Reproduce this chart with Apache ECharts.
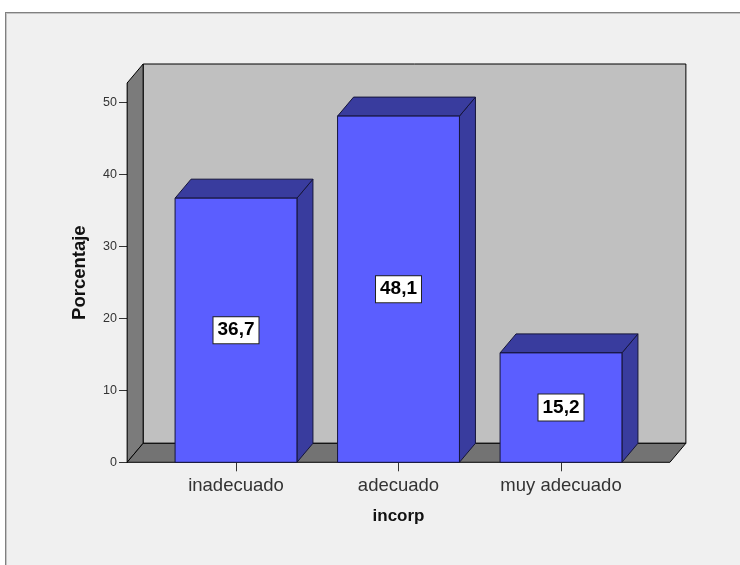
<!DOCTYPE html>
<html>
<head>
<meta charset="utf-8">
<title>incorp</title>
<script src="https://cdn.jsdelivr.net/npm/echarts@6/dist/echarts.min.js"></script>
<style>
  html, body { margin: 0; padding: 0; background: #ffffff; }
  #frame {
    position: absolute; left: 5px; top: 12px; right: 0; bottom: 0;
    background: #f0f0f0;
    border-top: 1px solid #808080; border-left: 1px solid #808080;
    box-shadow: inset 1px 1px 0 #c4c4c4;
  }
  #chart { position: absolute; left: 0; top: 0; width: 740px; height: 565px; }
</style>
</head>
<body>
<div id="frame"></div>
<div id="chart"></div>
<script>
// Categories of "incorp" and their percentages
const categories = ['inadecuado', 'adecuado', 'muy adecuado'];
const percentages = [36.7, 48.1, 15.2];
const yTickValues = [0, 10, 20, 30, 40, 50];
const yAxisTop = 52.7;          // height of the box walls, in axis units

// Box look
const DEPTH = [16, -19];        // pixel offset of the back plane
const SIDE_PAD = 0.17;          // extra floor beyond the outer bands, in bands
const BAR_RATIO = 0.75;         // bar width as a share of the band

const chart = echarts.init(document.getElementById('chart'), null, { renderer: 'canvas' });

function fmt(v) { return v.toFixed(1).replace('.', ','); }

// Back wall, left wall and floor of the 3D box
function renderWalls(params, api) {
  const band = api.size([1, 0])[0];
  const p0 = api.coord([0, 0]);
  const pN = api.coord([categories.length - 1, 0]);
  const yBase = p0[1];
  const yTop = api.coord([0, yAxisTop])[1];
  const xL = p0[0] - band * (0.5 + SIDE_PAD);
  const xR = pN[0] + band * (0.5 + SIDE_PAD);
  const dx = DEPTH[0], dy = DEPTH[1];
  const stroke = { stroke: '#000000', lineWidth: 1 };
  return {
    type: 'group',
    children: [
      { type: 'polygon', shape: { points: [[xL + dx, yTop + dy], [xR + dx, yTop + dy], [xR + dx, yBase + dy], [xL + dx, yBase + dy]] },
        style: Object.assign({ fill: '#c0c0c0' }, stroke) },
      { type: 'polygon', shape: { points: [[xL, yBase], [xL, yTop], [xL + dx, yTop + dy], [xL + dx, yBase + dy]] },
        style: Object.assign({ fill: '#7b7b7b' }, stroke) },
      { type: 'polygon', shape: { points: [[xL, yBase], [xR, yBase], [xR + dx, yBase + dy], [xL + dx, yBase + dy]] },
        style: Object.assign({ fill: '#737373' }, stroke) }
    ]
  };
}

// One 3D bar: front face, top face, right face and a boxed value label
function renderBar(params, api) {
  const idx = api.value(0);
  const val = api.value(1);
  const band = api.size([1, 0])[0];
  const w = band * BAR_RATIO;
  const top = api.coord([idx, val]);
  const base = api.coord([idx, 0]);
  const xl = top[0] - w / 2, xr = top[0] + w / 2;
  const yt = top[1], yb = base[1];
  const dx = DEPTH[0], dy = DEPTH[1];
  const edge = { stroke: '#15153a', lineWidth: 1 };
  return {
    type: 'group',
    children: [
      { type: 'polygon', shape: { points: [[xr, yt], [xr + dx, yt + dy], [xr + dx, yb + dy], [xr, yb]] },
        style: Object.assign({ fill: '#393c9e' }, edge) },
      { type: 'polygon', shape: { points: [[xl, yt], [xr, yt], [xr + dx, yt + dy], [xl + dx, yt + dy]] },
        style: Object.assign({ fill: '#393c9e' }, edge) },
      { type: 'rect', shape: { x: xl, y: yt, width: w, height: yb - yt },
        style: Object.assign({ fill: '#5b5eff' }, edge) },
      { type: 'text', x: top[0], y: (yt + yb) / 2,
        style: {
          text: fmt(val), align: 'center', verticalAlign: 'middle',
          font: 'bold 19px "Liberation Sans", Arial, sans-serif', fill: '#000000',
          backgroundColor: '#ffffff', borderColor: '#222222', borderWidth: 1,
          padding: [4, 4, 3, 4], lineHeight: 19
        } }
    ]
  };
}

const option = {
  animation: false,
  backgroundColor: 'transparent',
  grid: { left: 154.75, right: 97.75, top: 83, bottom: 102.7, containLabel: false },
  xAxis: {
    type: 'category',
    data: categories,
    name: 'incorp',
    nameLocation: 'middle',
    nameGap: 46,
    nameTextStyle: { fontFamily: '"Liberation Sans", Arial, sans-serif', fontWeight: 'bold', fontSize: 17, color: '#111111' },
    axisLine: { show: false },
    axisTick: { show: true, alignWithLabel: true, length: 9, lineStyle: { color: '#333333', width: 1 } },
    axisLabel: { margin: 14, fontFamily: '"Liberation Sans", Arial, sans-serif', fontSize: 18.5, color: '#333333' },
    splitLine: { show: false }
  },
  yAxis: {
    type: 'value',
    min: 0,
    max: yAxisTop,
    offset: 27.75,
    name: 'Porcentaje',
    nameLocation: 'middle',
    nameGap: 38,
    nameTextStyle: { fontFamily: '"Liberation Sans", Arial, sans-serif', fontWeight: 'bold', fontSize: 18.5, color: '#111111' },
    axisLine: { show: true, lineStyle: { color: '#000000', width: 1 } },
    axisTick: { show: true, length: 8, customValues: yTickValues, lineStyle: { color: '#333333', width: 1 } },
    axisLabel: { margin: 10, customValues: yTickValues, fontFamily: '"Liberation Sans", Arial, sans-serif', fontSize: 12.5, color: '#333333' },
    splitLine: { show: false }
  },
  series: [
    {
      name: 'walls', type: 'custom', z: 1, clip: false, silent: true,
      renderItem: renderWalls,
      data: [[0, 0]]
    },
    {
      name: 'Porcentaje', type: 'custom', z: 2, clip: false,
      renderItem: renderBar,
      encode: { x: 0, y: 1 },
      data: percentages.map((v, i) => [i, v])
    }
  ]
};

chart.setOption(option);
</script>
</body>
</html>
